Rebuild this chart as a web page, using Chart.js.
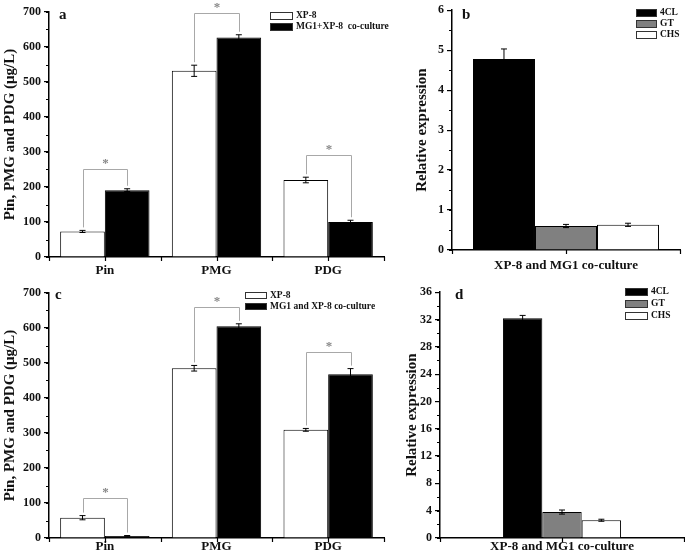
<!DOCTYPE html>
<html>
<head>
<meta charset="utf-8">
<script src="https://cdn.jsdelivr.net/npm/chart.js@4.4.0/dist/chart.umd.min.js"></script>
<style>
  body { margin: 0; background: #fff; }
  #wrap { position: relative; width: 685px; height: 557px; }
  canvas { position: absolute; }
</style>
</head>
<body>
<div id="wrap">
  <canvas id="chartA" width="390" height="282" style="left:0;top:0"></canvas>
  <canvas id="chartB" width="295" height="282" style="left:390px;top:0"></canvas>
  <canvas id="chartC" width="390" height="275" style="left:0;top:282px"></canvas>
  <canvas id="chartD" width="295" height="275" style="left:390px;top:282px"></canvas>
</div>
<script>
// categories
const compounds = ["Pin", "PMG", "PDG"];
const geneGroup = ["XP-8 and MG1 co-culture"];

// panel a
const aXP8 = [73, 532, 220];
const aXP8Err = [3, 16, 8];
const aCo = [191, 627, 100];
const aCoErr = [4, 8, 5];
const aBrackets = [251, 697, 291];

// panel b
const bGenes = ["4CL", "GT", "CHS"];
const bValues = [4.78, 0.6, 0.63];
const bErr = [0.25, 0.04, 0.04];

// panel c
const cXP8 = [58, 485, 309];
const cXP8Err = [6, 8, 4];
const cCo = [6, 605, 468];
const cCoErr = [1, 7, 16];
const cBrackets = [114, 660, 531];

// panel d
const dValues = [32.2, 3.8, 2.6];
const dErr = [0.4, 0.3, 0.15];

const SERIF = "'Liberation Serif', 'Times New Roman', serif";
Chart.defaults.font.family = SERIF;
Chart.defaults.font.weight = "bold";
Chart.defaults.color = "#111";

// error bars, minor ticks, brackets, legend, panel letter
const extras = {
  id: "extras",
  afterDatasetsDraw(chart, args, opts) {
    const ctx = chart.ctx;
    const ys = chart.scales.y;
    const area = chart.chartArea;
    ctx.save();

    // error bars
    ctx.strokeStyle = "#000";
    ctx.lineWidth = 1;
    chart.data.datasets.forEach((ds, i) => {
      chart.getDatasetMeta(i).data.forEach((bar, j) => {
        const v = ds.data[j], e = ds.err[j];
        const t = ys.getPixelForValue(v + e), b = ys.getPixelForValue(v - e);
        ctx.beginPath();
        ctx.moveTo(bar.x, t); ctx.lineTo(bar.x, b);
        ctx.moveTo(bar.x - 3, t); ctx.lineTo(bar.x + 3, t);
        ctx.moveTo(bar.x - 3, b); ctx.lineTo(bar.x + 3, b);
        ctx.stroke();
      });
    });

    // minor y ticks
    ctx.lineWidth = 1.2;
    ctx.beginPath();
    for (let v = ys.min; v <= ys.max + 1e-9; v += opts.minor) {
      const p = Math.round(ys.getPixelForValue(v)) + 0.5;
      ctx.moveTo(area.left - 3, p); ctx.lineTo(area.left, p);
    }
    // x ticks at centers and boundaries
    const n = chart.data.labels.length;
    const cw = (area.right - area.left) / n;
    for (let k = 0; k <= 2 * n; k++) {
      const px = Math.round(area.left + k * cw / 2) + 0.5;
      ctx.moveTo(px, area.bottom); ctx.lineTo(px, area.bottom + 4);
    }
    ctx.stroke();

    // significance brackets
    if (opts.brackets) {
      const m0 = chart.getDatasetMeta(0), m1 = chart.getDatasetMeta(1);
      const d0 = chart.data.datasets[0], d1 = chart.data.datasets[1];
      ctx.strokeStyle = "#a8a8a8";
      ctx.lineWidth = 1;
      opts.brackets.forEach((bv, j) => {
        const x0 = Math.round(m0.data[j].x) + 0.5, x1 = Math.round(m1.data[j].x) + 0.5;
        const yb = Math.round(ys.getPixelForValue(bv)) + 0.5;
        const l0 = ys.getPixelForValue(d0.data[j] + d0.err[j]) - 3;
        const l1 = ys.getPixelForValue(d1.data[j] + d1.err[j]) - 3;
        ctx.beginPath();
        ctx.moveTo(x0, l0); ctx.lineTo(x0, yb); ctx.lineTo(x1, yb); ctx.lineTo(x1, l1);
        ctx.stroke();
        ctx.fillStyle = "#888";
        ctx.font = "bold 13px " + SERIF;
        ctx.textAlign = "center";
        ctx.textBaseline = "middle";
        ctx.fillText("*", (x0 + x1) / 2, yb - 6);
      });
    }

    // legend
    const lg = opts.legend;
    ctx.font = "bold " + lg.size + "px " + SERIF;
    ctx.textAlign = "left";
    ctx.textBaseline = "middle";
    lg.items.forEach((it, k) => {
      const yy = lg.y + k * lg.row;
      ctx.fillStyle = it.color;
      ctx.fillRect(lg.x, yy, lg.w, lg.h);
      ctx.strokeStyle = "#333";
      ctx.lineWidth = 1;
      ctx.strokeRect(lg.x + 0.5, yy + 0.5, lg.w - 1, lg.h - 1);
      ctx.fillStyle = "#111";
      ctx.fillText(it.label, lg.x + lg.w + 3, yy + lg.h / 2);
    });

    // panel letter
    ctx.font = "bold 15px " + SERIF;
    ctx.fillStyle = "#111";
    ctx.fillText(opts.letter, opts.letterX, opts.letterY);
    ctx.restore();
  }
};

function makeChart(id, p) {
  return new Chart(document.getElementById(id), {
    type: "bar",
    data: { labels: p.labels, datasets: p.datasets },
    options: {
      responsive: false,
      devicePixelRatio: 1,
      animation: false,
      layout: { padding: { top: p.top, right: p.right, left: 0, bottom: 0 } },
      datasets: { bar: { categoryPercentage: p.catPct, barPercentage: 1, borderWidth: 1, borderColor: "#000" } },
      plugins: {
        legend: { display: false },
        tooltip: { enabled: false },
        extras: {
          minor: p.minor, brackets: p.brackets, legend: p.legend,
          letter: p.letter, letterX: p.letterX, letterY: p.letterY
        }
      },
      scales: {
        x: {
          grid: { display: false, drawTicks: false },
          border: { display: true, color: "#000", width: 1.5 },
          ticks: { font: { size: 13 }, padding: p.xPad, maxRotation: 0 },
          afterFit: (s) => { s.height = p.bottom; }
        },
        y: {
          min: 0, max: p.max,
          ticks: { stepSize: p.step, font: { size: 12 }, padding: 3 },
          grid: { drawOnChartArea: false, drawTicks: true, tickLength: 5, color: "#000", lineWidth: 1.2 },
          border: { display: true, color: "#000", width: 1.5 },
          title: { display: true, text: p.yTitle, font: { size: 15 }, padding: { top: p.titlePad, bottom: 0 } },
          afterFit: (s) => { s.width = p.left; }
        }
      }
    },
    plugins: [extras]
  });
}

const pairItems = (coLabel) => [
  { label: "XP-8", color: "#fff" },
  { label: coLabel, color: "#000" }
];
const geneItems = [
  { label: bGenes[0], color: "#000" },
  { label: bGenes[1], color: "#808080" },
  { label: bGenes[2], color: "#fff" }
];
const geneColors = ["#000", "#808080", "#fff"];

makeChart("chartA", {
  labels: compounds,
  datasets: [
    { data: aXP8, err: aXP8Err, backgroundColor: "#fff" },
    { data: aCo, err: aCoErr, backgroundColor: "#000" }
  ],
  top: 12, right: 6, left: 49, bottom: 25, xPad: 6, catPct: 0.8,
  max: 700, step: 100, minor: 50, brackets: aBrackets,
  yTitle: "Pin, PMG and PDG (μg/L)", titlePad: 1,
  legend: { x: 270, y: 12, w: 23, h: 8, row: 11, size: 9.5, items: pairItems("MG1+XP-8  co-culture") },
  letter: "a", letterX: 59, letterY: 15
});

makeChart("chartB", {
  labels: geneGroup,
  datasets: bValues.map((v, i) => ({ data: [v], err: [bErr[i]], backgroundColor: geneColors[i] })),
  top: 9, right: 5, left: 62, bottom: 32, xPad: 8, catPct: 0.816,
  max: 6, step: 1, minor: 0.5,
  yTitle: "Relative expression", titlePad: 23,
  legend: { x: 246, y: 9, w: 21, h: 8, row: 11, size: 9.5, items: geneItems },
  letter: "b", letterX: 72, letterY: 15
});

makeChart("chartC", {
  labels: compounds,
  datasets: [
    { data: cXP8, err: cXP8Err, backgroundColor: "#fff" },
    { data: cCo, err: cCoErr, backgroundColor: "#000" }
  ],
  top: 11, right: 6, left: 49, bottom: 19, xPad: 1, catPct: 0.8,
  max: 700, step: 100, minor: 50, brackets: cBrackets,
  yTitle: "Pin, PMG and PDG (μg/L)", titlePad: 1,
  legend: { x: 245, y: 10, w: 22, h: 7, row: 11, size: 9.5, items: pairItems("MG1 and XP-8 co-culture") },
  letter: "c", letterX: 55, letterY: 13
});

makeChart("chartD", {
  labels: geneGroup,
  datasets: dValues.map((v, i) => ({ data: [v], err: [dErr[i]], backgroundColor: geneColors[i] })),
  top: 10, right: 1, left: 50, bottom: 19, xPad: 1, catPct: 0.484,
  max: 36, step: 4, minor: 2,
  yTitle: "Relative expression", titlePad: 13,
  legend: { x: 235, y: 6, w: 23, h: 8, row: 12, size: 9.5, items: geneItems },
  letter: "d", letterX: 65, letterY: 13
});
</script>
</body>
</html>
